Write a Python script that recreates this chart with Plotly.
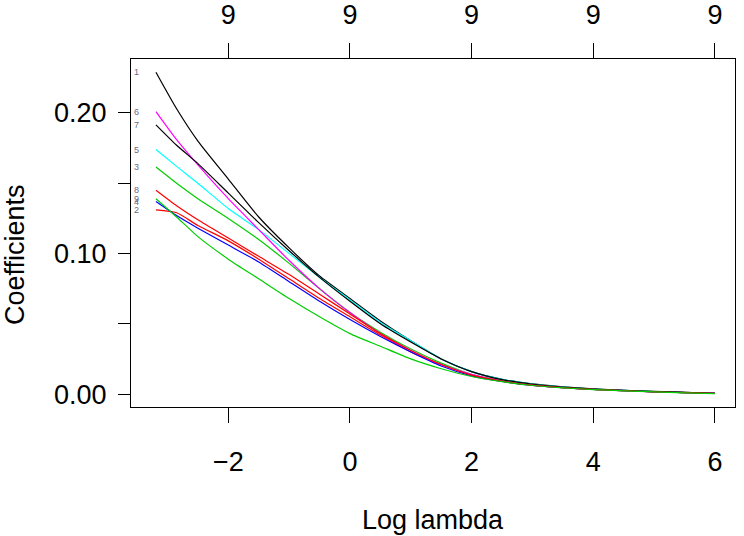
import plotly.graph_objects as go

# ---- data ----
log_lambda = [-3.19, -2.85, -2.5, -2.0, -1.5, -1.0, -0.5, 0.0, 0.5, 1.0, 1.5, 2.0,
              2.5, 3.0, 3.5, 4.0, 4.5, 5.0, 5.5, 6.0]

coef_1 = [0.229, 0.203, 0.180, 0.153, 0.126, 0.104, 0.084, 0.068, 0.052, 0.038, 0.025, 0.016,
          0.0105, 0.0072, 0.0052, 0.0037, 0.0027, 0.0019, 0.0012, 0.0006]
coef_2 = [0.131, 0.129, 0.120, 0.109, 0.096, 0.082, 0.068, 0.055, 0.042, 0.030, 0.021, 0.0135,
          0.0092, 0.0063, 0.0046, 0.0033, 0.0024, 0.0016, 0.0010, 0.0005]
coef_3 = [0.1615, 0.150, 0.139, 0.125, 0.110, 0.093, 0.075, 0.058, 0.044, 0.032, 0.022, 0.014,
          0.0095, 0.0065, 0.0047, 0.0034, 0.0025, 0.0017, 0.0010, 0.0005]
coef_4 = [0.137, 0.127, 0.118, 0.106, 0.094, 0.080, 0.066, 0.053, 0.041, 0.030, 0.020, 0.013,
          0.0090, 0.0062, 0.0045, 0.0033, 0.0024, 0.0016, 0.0010, 0.0005]
coef_5 = [0.174, 0.162, 0.150, 0.132, 0.117, 0.100, 0.083, 0.067, 0.051, 0.038, 0.025, 0.016,
          0.0105, 0.0071, 0.0051, 0.0036, 0.0026, 0.0018, 0.0011, 0.0006]
coef_6 = [0.201, 0.181, 0.163, 0.139, 0.117, 0.095, 0.075, 0.058, 0.043, 0.031, 0.021, 0.014,
          0.0093, 0.0064, 0.0046, 0.0033, 0.0024, 0.0016, 0.0010, 0.0005]
coef_7 = [0.1915, 0.177, 0.164, 0.143, 0.122, 0.102, 0.083, 0.066, 0.050, 0.037, 0.025, 0.016,
          0.0103, 0.0070, 0.0050, 0.0036, 0.0026, 0.0018, 0.0012, 0.0006]
coef_8 = [0.145, 0.134, 0.124, 0.111, 0.098, 0.085, 0.071, 0.057, 0.043, 0.031, 0.021, 0.0135,
          0.0092, 0.0063, 0.0046, 0.0033, 0.0024, 0.0016, 0.0010, 0.0005]
coef_9 = [0.139, 0.126, 0.112, 0.096, 0.082, 0.068, 0.055, 0.043, 0.034, 0.025, 0.018, 0.0125,
          0.0088, 0.0061, 0.0044, 0.0032, 0.0023, 0.0015, 0.0009, 0.0003]

series = [coef_1, coef_2, coef_3, coef_4, coef_5, coef_6, coef_7, coef_8, coef_9]
series_labels = ["1", "2", "3", "4", "5", "6", "7", "8", "9"]

x_ticks = [-2, 0, 2, 4, 6]
x_tick_labels = ["\u22122", "0", "2", "4", "6"]
top_tick_labels = ["9", "9", "9", "9", "9"]
y_ticks = [0.0, 0.05, 0.10, 0.15, 0.20]
y_tick_labels = ["0.00", "", "0.10", "", "0.20"]

# ---- styles ----
colors = ["#000000", "#FF0000", "#00CD00", "#0000FF", "#00FFFF", "#FF00FF",
          "#000000", "#FF0000", "#00CD00"]
FONT = "Liberation Sans, Arial, Helvetica, sans-serif"
FS = 27
X_RANGE = [-3.60, 6.33]
Y_RANGE = [-0.0092, 0.2384]

fig = go.Figure()
for vals, col, lab in zip(series, colors, series_labels):
    fig.add_trace(go.Scatter(x=log_lambda, y=vals, mode="lines",
                             line=dict(color=col, width=1.2, shape="spline", smoothing=0.6),
                             name=lab, showlegend=False, hoverinfo="skip"))

# invisible trace so the top axis is drawn
fig.add_trace(go.Scatter(x=x_ticks, y=[0] * len(x_ticks), xaxis="x2", mode="markers",
                         marker=dict(opacity=0), showlegend=False, hoverinfo="skip"))

# variable labels at the left edge
for vals, lab in zip(series, series_labels):
    fig.add_annotation(x=X_RANGE[0], y=vals[0], text=lab, showarrow=False,
                       xanchor="left", yanchor="middle", xshift=1,
                       font=dict(family=FONT, size=9, color="#6a6a88"))

fig.add_annotation(x=0.5, y=0, xref="paper", yref="paper", text="Log lambda",
                   showarrow=False, yanchor="middle", yshift=-113,
                   font=dict(family=FONT, size=FS, color="#000000"))
fig.add_annotation(x=0, y=0.5, xref="paper", yref="paper", text="Coefficients",
                   showarrow=False, textangle=-90, xanchor="center", xshift=-116,
                   yshift=-22, font=dict(family=FONT, size=FS, color="#000000"))

fig.update_layout(
    template="none",
    width=744, height=536,
    margin=dict(l=131, r=9, t=59, b=129, autoexpand=False),
    paper_bgcolor="white", plot_bgcolor="white",
    font=dict(family=FONT, size=FS, color="#000000"),
    xaxis=dict(range=X_RANGE, tickvals=x_ticks, ticktext=x_tick_labels, automargin=False,
               showgrid=False, zeroline=False, showline=True, linecolor="#000000",
               linewidth=1.2, mirror=True, ticks="outside", ticklen=15,
               tickcolor="#000000", tickwidth=1.2, ticklabelstandoff=15),
    xaxis2=dict(range=X_RANGE, overlaying="x", side="top", tickvals=x_ticks, automargin=False,
                ticktext=top_tick_labels, showgrid=False, zeroline=False,
                showline=False, ticks="outside", ticklen=15, tickcolor="#000000",
                tickwidth=1.2, ticklabelstandoff=8),
    yaxis=dict(range=Y_RANGE, tickvals=y_ticks, ticktext=y_tick_labels, automargin=False,
               showgrid=False, zeroline=False, showline=True, linecolor="#000000",
               linewidth=1.2, mirror=True, ticks="outside", ticklen=12,
               tickcolor="#000000", tickwidth=1.2, ticklabelstandoff=6),
)

fig.write_html("out.html", config={"displayModeBar": False},
               post_script="document.body.style.margin='0';")
